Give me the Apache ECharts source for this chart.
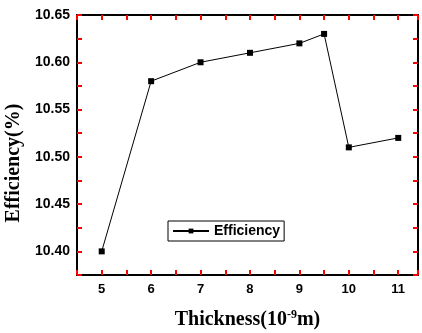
<!DOCTYPE html>
<html>
<head>
<meta charset="utf-8">
<script src="https://cdn.jsdelivr.net/npm/echarts@6/dist/echarts.min.js"></script>
<style>
  html, body { margin: 0; padding: 0; background: #fff; }
  #chart { width: 422px; height: 333px; }
</style>
</head>
<body>
<div id="chart"></div>
<script>
  // thickness (10^-9 m) vs efficiency (%)
  const thickness = [5, 6, 7, 8, 9, 9.5, 10, 11]
  const efficiency = [10.40, 10.58, 10.60, 10.61, 10.62, 10.63, 10.51, 10.52]
  const seriesName = 'Efficiency'

  const points = thickness.map((t, i) => [t, efficiency[i]])

  const chart = echarts.init(document.getElementById('chart'))

  const boldSans = { fontFamily: 'Liberation Sans, Arial, sans-serif', fontWeight: 'bold', color: '#000' }

  // box frame: thick black line, ticks pointing inward (red here to check they are drawn)
  function frameAxis() {
    return {
      axisLine: { show: true, lineStyle: { color: '#000', width: 2 } },
      axisTick: { show: true, inside: true, length: 5, lineStyle: { color: 'red', width: 2 } },
      splitLine: { show: false }
    }
  }

  const option = {
    backgroundColor: '#fff',
    animation: false,
    grid: { left: 77, right: 4, top: 15, bottom: 58, outerBoundsMode: 'none' },
    legend: {
      data: [seriesName],
      left: 168,
      top: 221,
      itemWidth: 36,
      itemHeight: 6,
      padding: [3, 4, 3, 4],
      borderColor: '#000',
      borderWidth: 1,
      textStyle: Object.assign({ fontSize: 14 }, boldSans)
    },
    xAxis: [Object.assign({
      type: 'value',
      min: 4.5,
      max: 11.4,
      interval: 0.5,
      axisLabel: Object.assign({
        fontSize: 13,
        margin: 8,
        formatter: v => (Math.abs(v - Math.round(v)) < 1e-6 ? String(Math.round(v)) : '')
      }, boldSans),
      name: 'Thickness(10{sup|-9}m)',
      nameLocation: 'middle',
      nameGap: 34,
      nameTextStyle: {
        fontFamily: 'Liberation Serif, Times New Roman, serif',
        fontWeight: 'bold',
        fontSize: 20,
        color: '#000',
        rich: {
          sup: {
            fontFamily: 'Liberation Serif, Times New Roman, serif',
            fontWeight: 'bold',
            fontSize: 12,
            color: '#000',
            verticalAlign: 'top',
            padding: [0, 0, 9, 0]
          }
        }
      }
    }, frameAxis()), Object.assign({
      type: 'value',
      position: 'top',
      min: 4.5,
      max: 11.4,
      interval: 0.5,
      axisLabel: { show: false }
    }, frameAxis())],
    yAxis: [Object.assign({
      type: 'value',
      min: 10.375,
      max: 10.65,
      interval: 0.025,
      axisLabel: Object.assign({
        fontSize: 14,
        margin: 7,
        formatter: v => (Math.round(v * 1000) % 50 === 0 ? v.toFixed(2) : '')
      }, boldSans),
      name: 'Efficiency(%)',
      nameLocation: 'middle',
      nameGap: 40,
      nameTextStyle: {
        fontFamily: 'Liberation Serif, Times New Roman, serif',
        fontWeight: 'bold',
        fontSize: 20,
        color: '#000',
        padding: [0, 36, 0, 0]
      }
    }, frameAxis()), Object.assign({
      type: 'value',
      position: 'right',
      min: 10.375,
      max: 10.65,
      interval: 0.025,
      axisLabel: { show: false }
    }, frameAxis())],
    series: [{
      name: seriesName,
      type: 'line',
      data: points,
      symbol: 'rect',
      symbolSize: 6,
      lineStyle: { color: '#000', width: 1 },
      itemStyle: { color: '#000' }
    }]
  }

  chart.setOption(option)
</script>
</body>
</html>
